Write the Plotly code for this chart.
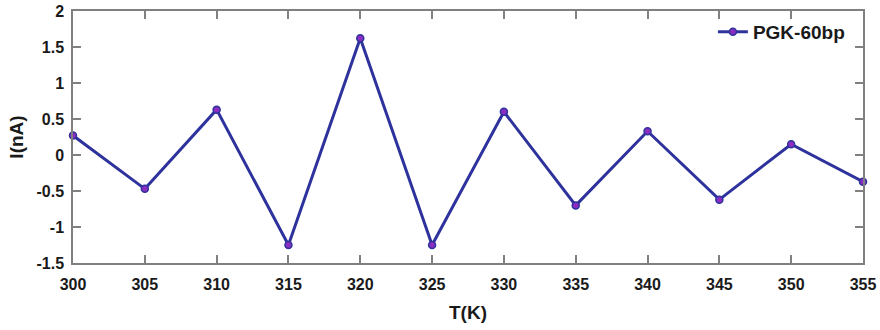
import plotly.graph_objects as go

T = [300, 305, 310, 315, 320, 325, 330, 335, 340, 345, 350, 355]
I = [0.27, -0.47, 0.63, -1.25, 1.62, -1.25, 0.60, -0.70, 0.33, -0.62, 0.15, -0.37]
xticks = [300, 305, 310, 315, 320, 325, 330, 335, 340, 345, 350, 355]
yticks = [-1.5, -1, -0.5, 0, 0.5, 1, 1.5, 2]
ytext = ["-1.5", "-1", "-0.5", "0", "0.5", "1", "1.5", "2"]

FONT = "Liberation Sans, Arial"
TXT = "#1a1a1a"
AX = "#808080"

fig = go.Figure()
fig.add_trace(go.Scatter(
    x=T, y=I, mode="lines+markers", name="<b>PGK-60bp</b>",
    line=dict(color="#2E329C", width=3),
    marker=dict(size=7, color="#8A2DC0", line=dict(color="#2E329C", width=1.5)),
    cliponaxis=False,
))

axis_common = dict(
    showline=True, linecolor=AX, linewidth=1.5, mirror="ticks",
    ticks="inside", ticklen=8, tickcolor=AX, tickwidth=1.5,
    showgrid=False, zeroline=False,
    tickfont=dict(family=FONT, size=16, color=TXT),
)

fig.update_xaxes(
    range=[300, 355], tickvals=xticks, ticktext=[f"<b>{v}</b>" for v in xticks],
    ticklabelstandoff=6,
    title=dict(text="<b>T(K)</b>", font=dict(family=FONT, size=19, color=TXT), standoff=14),
    **axis_common,
)
fig.update_yaxes(
    range=[-1.5, 2], tickvals=yticks, ticktext=[f"<b>{t}</b>" for t in ytext],
    ticklabelstandoff=4,
    title=dict(text="<b>I(nA)</b>", font=dict(family=FONT, size=19, color=TXT), standoff=8),
    **axis_common,
)

fig.update_layout(
    width=880, height=330,
    margin=dict(l=73, r=17, t=11, b=67, autoexpand=False),
    plot_bgcolor="white", paper_bgcolor="white",
    showlegend=True,
    legend=dict(x=0.810, y=0.917, xanchor="left", yanchor="middle",
                bgcolor="rgba(0,0,0,0)",
                font=dict(family=FONT, size=19, color=TXT)),
)

fig.write_html("out.html", config={"displayModeBar": False},
               post_script="document.body.style.margin='0';")
